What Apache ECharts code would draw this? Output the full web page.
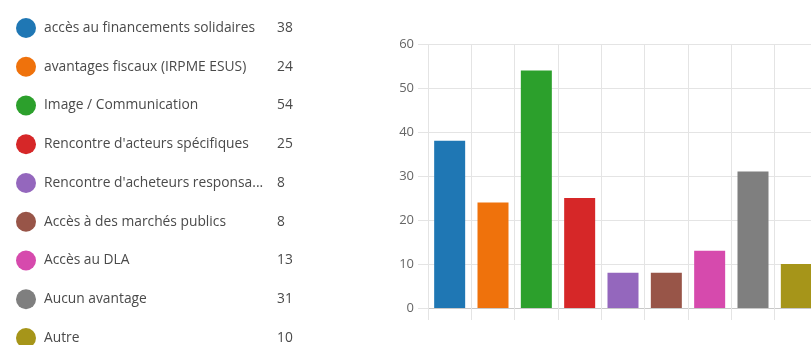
<!DOCTYPE html>
<html>
<head>
<meta charset="utf-8">
<script src="https://cdn.jsdelivr.net/npm/echarts@6/dist/echarts.min.js"></script>
<style>
  html, body { margin: 0; padding: 0; background: #fff; }
  #chart { width: 811px; height: 345px; }
</style>
</head>
<body>
<div id="chart"></div>
<script>
const categories = [
  'accès au financements solidaires',
  'avantages fiscaux (IRPME ESUS)',
  'Image / Communication',
  "Rencontre d'acteurs spécifiques",
  "Rencontre d'acheteurs responsa...",
  'Accès à des marchés publics',
  'Accès au DLA',
  'Aucun avantage',
  'Autre'
]
const values = [38, 24, 54, 25, 8, 8, 13, 31, 10]
const colors = ['#1f77b4', '#ef720c', '#2ca02c', '#d62728', '#9467bd', '#985548', '#d64aad', '#7f7f7f', '#a69519']
const yTicks = [0, 10, 20, 30, 40, 50, 60]

// one series per answer so the legend lists every answer
const series = categories.map((name, i) => ({
  name: name,
  type: 'bar',
  stack: 'all',
  barWidth: 31,
  itemStyle: { color: colors[i] },
  data: values.map((v, j) => (j === i ? v : '-'))
}))

const chart = echarts.init(document.getElementById('chart'))
chart.setOption({
  animation: false,
  textStyle: { fontFamily: 'Open Sans' },
  legend: {
    orient: 'vertical',
    left: 11,
    top: 13,
    height: 340,
    icon: 'circle',
    itemWidth: 20,
    itemHeight: 20,
    itemGap: 18.75,
    selectedMode: false,
    data: categories,
    formatter: name => '{n|' + name + '}{v|' + values[categories.indexOf(name)] + '}',
    textStyle: {
      padding: [0, 0, 0, 3],
      rich: {
        n: { width: 233, fontSize: 13.8, color: '#4a4a4a', fontFamily: 'Open Sans' },
        v: { fontSize: 13.8, color: '#4a4a4a', fontFamily: 'Open Sans' }
      }
    }
  },
  // plot runs past the right edge, as in the reference
  grid: { left: 428, top: 44, bottom: 37, right: -7, outerBoundsMode: 'none' },
  xAxis: {
    type: 'category',
    data: categories,
    axisLabel: { show: false, interval: 0 },
    axisLine: { lineStyle: { color: '#c8c8c8' } },
    axisTick: { show: true, interval: 0, length: 12, lineStyle: { color: '#e4e4e4' } },
    splitLine: { show: true, interval: 0, lineStyle: { color: '#e4e4e4' } }
  },
  yAxis: {
    type: 'value',
    min: yTicks[0],
    max: yTicks[yTicks.length - 1],
    interval: 10,
    axisLine: { show: false },
    axisTick: { show: true, length: 10, lineStyle: { color: '#e4e4e4' } },
    axisLabel: { color: '#666', fontSize: 13, margin: 14 },
    splitLine: { lineStyle: { color: '#e4e4e4' } }
  },
  series: series
})
</script>
</body>
</html>
